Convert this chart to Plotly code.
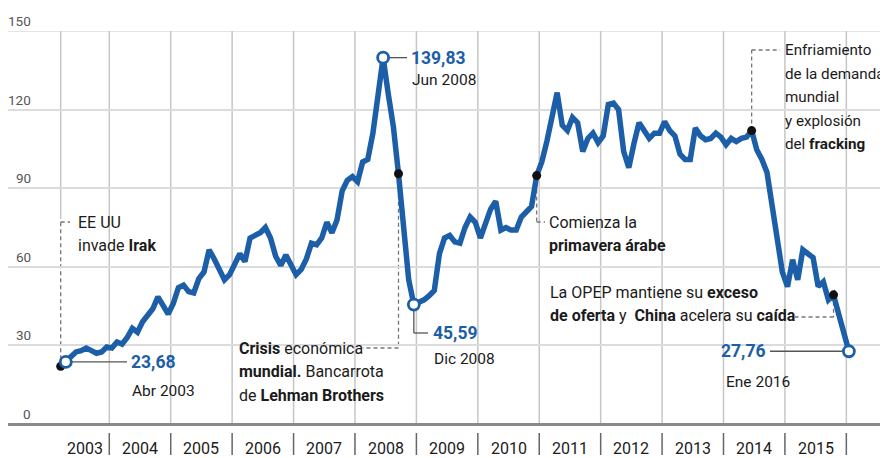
import plotly.graph_objects as go

# ---------------- data (monthly price, USD/barrel) ----------------
p2003 = [22, 23.68, 25.5, 27.5, 28, 29, 28, 27, 27.5, 29.4]          # Mar..Dec
p2004 = [29, 31.3, 30.5, 33, 36.5, 35, 39, 41.5, 44, 48.5, 45, 42]
p2005 = [46, 52, 53, 50.5, 50, 55.5, 58, 66.5, 63, 59.5, 55, 57]
p2006 = [61.5, 65, 62, 71, 72, 73, 75, 71, 64, 60.5, 64.5, 61]
p2007 = [57, 59, 63, 69, 68.4, 71, 77, 73, 78, 89, 93, 94.4]
p2008 = [92.5, 100, 101, 111, 126, 139.83, 126, 113.5, 95.5, 73, 55, 45.59]
p2009 = [46.5, 47.4, 49, 51, 65, 71, 72, 69.5, 69, 75, 79, 77]
p2010 = [71, 77, 82, 85, 74, 75, 74, 74, 79, 81, 83, 94.8]
p2011 = [100, 108, 118, 126.5, 114, 112, 117, 115, 104, 109, 111, 107.4]
p2012 = [110, 122, 122.5, 120, 104, 97.8, 107, 115, 112, 109, 111, 111]
p2013 = [115.4, 112, 110, 103, 101, 101, 113, 110, 108.5, 109, 111, 109.5]
p2014 = [106.6, 109, 107.8, 109, 109.5, 112, 104.7, 101, 96, 84, 70.5, 58]
p2015 = [52.4, 62.7, 55, 66.5, 65, 63.5, 52.5, 54.3, 47.4, 49.3, 42, 34.5]
p2016 = [27.76]                                                      # Jan

series = [(2003, 3, p2003), (2004, 1, p2004), (2005, 1, p2005), (2006, 1, p2006),
          (2007, 1, p2007), (2008, 1, p2008), (2009, 1, p2009), (2010, 1, p2010),
          (2011, 1, p2011), (2012, 1, p2012), (2013, 1, p2013), (2014, 1, p2014),
          (2015, 1, p2015), (2016, 1, p2016)]

year_labels = ["2003", "2004", "2005", "2006", "2007", "2008", "2009",
               "2010", "2011", "2012", "2013", "2014", "2015"]
y_ticks = [0, 30, 60, 90, 120, 150]

event_months = [(2003, 3), (2008, 9), (2010, 12), (2014, 6), (2015, 10)]
highlight_months = [(2003, 4), (2008, 6), (2008, 12), (2016, 1)]

# ---------------- styles / geometry ----------------
BLUE = "#1c5ea8"
TXT = "#1b1b1b"
FONT = "Roboto, Liberation Sans, sans-serif"
PAGE_OFF = 8                      # default page margin of the html body
W, H = 888 - PAGE_OFF, 458 - PAGE_OFF
# reference-pixel geometry of the plot area
PX_L, PX_R, PX_T, PX_B = 8, 888, 31, 424
YEAR0_PX, YEAR_W = 109.3, 61.42
XMIN = 2004 + (PX_L - YEAR0_PX) / YEAR_W
XMAX = 2004 + (PX_R - YEAR0_PX) / YEAR_W
LINE_GAP = 23.5


def xd(px):
    return 2004 + (px - YEAR0_PX) / YEAR_W


def yd(py):
    return (PX_B - py) / (PX_B - PX_T) * 150


def yp(py):
    return (PX_B - py) / (PX_B - PX_T)


def xp(x):
    return (x - XMIN) / (XMAX - XMIN)


xs, ys, lookup = [], [], {}
for yr, m0, vals in series:
    for i, v in enumerate(vals):
        m = m0 + i
        x = yr + (m - 0.5) / 12
        xs.append(x)
        ys.append(v)
        lookup[(yr, m)] = (x, v)

fig = go.Figure()

shapes = []
# top grid line (range edge)
shapes.append(dict(type="line", xref="paper", yref="y", x0=0, x1=1, y0=150, y1=150,
                   line=dict(color="#dcdcdc", width=1.5), layer="below"))
start_x = lookup[(2003, 3)][0]
for yr in range(2004, 2017):
    shapes.append(dict(type="line", xref="x", yref="y", x0=yr, x1=yr, y0=0, y1=150,
                       line=dict(color="#c6c6c6", width=1.5), layer="below"))
shapes.append(dict(type="line", xref="x", yref="y", x0=start_x, x1=start_x,
                   y0=yd(219), y1=150, line=dict(color="#c6c6c6", width=1.5), layer="below"))
for yr in range(2004, 2017):
    shapes.append(dict(type="line", xref="paper", yref="paper", x0=xp(yr), x1=xp(yr),
                       y0=yp(433), y1=yp(455), line=dict(color="#666", width=1.5)))

DASH = dict(color="#777", width=1.3, dash="4px,3px")
SOLID = dict(color="#555", width=1.3)


def seg(x0, y0, x1, y1, line):
    shapes.append(dict(type="line", xref="x", yref="y", x0=x0, y0=y0, x1=x1, y1=y1,
                       line=line, layer="below"))


ex, ev = lookup[(2003, 3)]
seg(ex, ev, ex, yd(222), DASH); seg(ex, yd(222), xd(70), yd(222), DASH)
ex, ev = lookup[(2008, 9)]
seg(ex, ev, ex, yd(348), DASH); seg(ex, yd(348), xd(363), yd(348), DASH)
ex, ev = lookup[(2010, 12)]
seg(ex, ev, ex, yd(222), DASH); seg(ex, yd(222), xd(545), yd(222), DASH)
ex, ev = lookup[(2014, 6)]
seg(ex, ev, ex, yd(50), DASH); seg(ex, yd(50), xd(780), yd(50), DASH)
ex, ev = lookup[(2015, 10)]
seg(ex, ev, ex, yd(317), DASH); seg(ex, yd(317), xd(795), yd(317), DASH)

hx, hv = lookup[(2003, 4)]
seg(hx, hv, xd(127), hv, SOLID)
hx, hv = lookup[(2008, 6)]
seg(hx, hv, xd(407), hv, SOLID)
hx, hv = lookup[(2008, 12)]
seg(hx, hv, hx, yd(333), SOLID); seg(hx, yd(333), xd(428), yd(333), SOLID)
hx, hv = lookup[(2016, 1)]
seg(xd(770), hv, hx, hv, SOLID)

fig.add_trace(go.Scatter(x=xs, y=ys, mode="lines", line=dict(color=BLUE, width=5.5),
                         hoverinfo="skip", showlegend=False))
fig.add_trace(go.Scatter(x=[lookup[k][0] for k in event_months],
                         y=[lookup[k][1] for k in event_months], mode="markers",
                         marker=dict(size=9, color="#111"), hoverinfo="skip", showlegend=False))
fig.add_trace(go.Scatter(x=[lookup[k][0] for k in highlight_months],
                         y=[lookup[k][1] for k in highlight_months], mode="markers",
                         marker=dict(size=11, color="white", line=dict(color=BLUE, width=2.8)),
                         hoverinfo="skip", showlegend=False))

ann = []


def text(x, y, s, size=16, color=TXT, xanchor="left", xref="x", yref="y", yshift=0):
    ann.append(dict(x=x, y=y, xref=xref, yref=yref, text=s, showarrow=False,
                    xanchor=xanchor, yanchor="middle", yshift=yshift,
                    font=dict(family=FONT, size=size, color=color)))


def block(px, py_first, lines, size=16):
    for i, s in enumerate(lines):
        text(xd(px), yd(py_first + i * LINE_GAP), s, size=size)


def fmt(v):
    return f"{v:.2f}".replace(".", ",")


for v in y_ticks:
    text((32.5 - PX_L) / (PX_R - PX_L), v, str(v), size=13.5, color="#555",
         xanchor="right", xref="paper", yshift=10)

centers = [(start_x + 2004) / 2] + [y + 0.5 for y in range(2004, 2016)]
for c, lab in zip(centers, year_labels):
    text(c, yp(448), lab, size=16, color=TXT, xanchor="center", yref="paper")

hx, hv = lookup[(2003, 4)]
text(xd(129), hv, f"<b>{fmt(hv)}</b>", size=17.5, color=BLUE)
text(xd(130), yd(391), "Abr 2003", size=15.5)
hx, hv = lookup[(2008, 6)]
text(xd(409), hv, f"<b>{fmt(hv)}</b>", size=17.5, color=BLUE)
text(xd(410), yd(80), "Jun 2008", size=15.5)
hx, hv = lookup[(2008, 12)]
text(xd(431), yd(333), f"<b>{fmt(hv)}</b>", size=17.5, color=BLUE)
text(xd(432), yd(359), "Dic 2008", size=15.5)
hx, hv = lookup[(2016, 1)]
text(xd(767), hv, f"<b>{fmt(hv)}</b>", size=17.5, color=BLUE, xanchor="right")
text(xd(724), yd(382), "Ene 2016", size=15.5)

block(76, 222, ["EE UU", "invade <b>Irak</b>"])
block(237, 348, ["<b>Crisis</b> económica", "<b>mundial.</b> Bancarrota",
                 "de <b>Lehman Brothers</b>"])
block(547, 222, ["Comienza la", "<b>primavera árabe</b>"])
block(548, 292, ["La OPEP mantiene su <b>exceso</b>",
                 "<b>de oferta</b> y  <b>China</b> acelera su <b>caída</b>"])
block(783, 50, ["Enfriamiento", "de la demanda", "mundial", "y explosión",
                "del <b>fracking</b>"], size=15.2)

fig.update_layout(
    width=W, height=H, autosize=False,
    margin=dict(l=PX_L - PAGE_OFF, r=888 - PX_R, t=PX_T - PAGE_OFF, b=458 - PX_B),
    paper_bgcolor="white", plot_bgcolor="white",
    shapes=shapes, annotations=ann, showlegend=False,
    xaxis=dict(range=[XMIN, XMAX], showgrid=False, zeroline=False, showticklabels=False,
               ticks="", showline=False, fixedrange=True),
    yaxis=dict(range=[0, 150], tickvals=y_ticks, showticklabels=False, showgrid=True,
               gridcolor="#dcdcdc", gridwidth=1.5, zeroline=True, zerolinecolor="#8a8a8a",
               zerolinewidth=2.5, showline=False, fixedrange=True),
    font=dict(family=FONT),
)

fig.write_html("out.html")
